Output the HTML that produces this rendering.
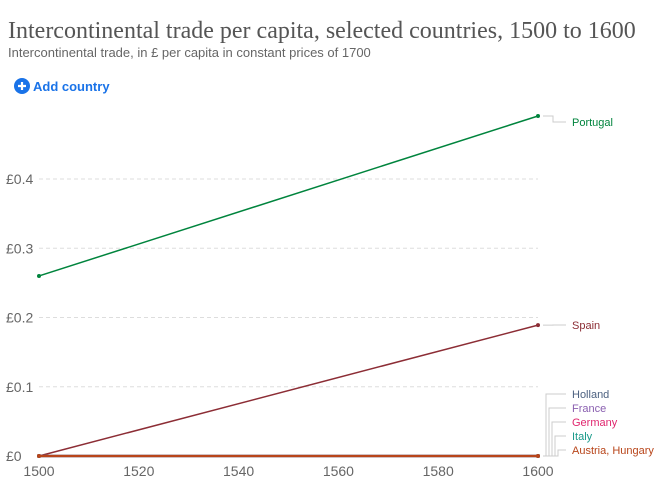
<!DOCTYPE html>
<html><head><meta charset="utf-8"><style>
body{margin:0;background:#fff;width:668px;height:495px;overflow:hidden;font-family:"Liberation Sans",sans-serif}
</style></head><body>
<svg width="668" height="495">
<text x="8" y="38" font-family="Liberation Serif,serif" font-size="24" fill="#555">Intercontinental trade per capita, selected countries, 1500 to 1600</text>
<text x="8" y="57" font-size="13" fill="#666">Intercontinental trade, in £ per capita in constant prices of 1700</text>
<g>
<circle cx="22" cy="86" r="8" fill="#1a73e8"/>
<path d="M18 86h8M22 82v8" stroke="#fff" stroke-width="2.2"/>
<text x="33" y="91" font-size="13" font-weight="bold" fill="#1a73e8">Add country</text>
</g>
<g id="grid"></g><g id="xax"></g><g id="series"></g><g id="labels"></g>
</svg>
<script>
const years=[1500,1600];
const names=["Portugal","Spain","Holland","France","Germany","Italy","Austria, Hungary"];
const colors=["#00843d","#8c2d35","#4c6180","#8a5fb0","#e0266e","#1a9a8a","#b8451a"];
const values=[[0.26,0.491],[0,0.189],[0,0],[0,0],[0,0],[0,0],[0,0]];
const yTicks=[0,0.1,0.2,0.3,0.4];
const yTickLabels=["£0","£0.1","£0.2","£0.3","£0.4"];
const xTicks=[1500,1520,1540,1560,1580,1600];
const NS="http://www.w3.org/2000/svg";
const X=v=>39+(v-1500)*(538-39)/100;
const Y=v=>456-v*692.5;
function mk(p,t,a){const e=document.createElementNS(NS,t);for(const k in a)e.setAttribute(k,a[k]);document.getElementById(p).appendChild(e);return e;}
yTicks.forEach((t,i)=>{
 if(t>0){const l=mk('grid','line',{x1:39,x2:538,y1:Y(t),y2:Y(t),stroke:'#ddd','stroke-dasharray':'4,3'});
 
 }
 const tx=mk('grid','text',{x:6,y:Y(t)+5,'font-size':14,fill:'#666'});tx.textContent=yTickLabels[i];
 
 
});
xTicks.forEach(t=>{
 const tx=mk('xax','text',{x:X(t),y:476,'font-size':14,fill:'#666','text-anchor':'middle'});tx.textContent=t;
 
 
});
const lblY=[126,329,398,412,426,440,454];
for(let i=0;i<names.length;i++){
 const pts=years.map((y,j)=>X(y)+','+Y(values[i][j])).join(' ');
 const pl=mk('series','polyline',{points:pts,fill:'none',stroke:colors[i],'stroke-width':i>=2?2.2:1.5});
 
 
 years.forEach((y,j)=>{const c=mk('series','circle',{cx:X(y),cy:Y(values[i][j]),r:2,fill:colors[i]});
 
 });
 const ey=Y(values[i][1]);
 let d;
 if(i<2){d=`M543 ${ey}H553V${lblY[i]-4}H566`;}
 else{const vx=546+(i-2)*3;d=`M543 ${ey}H${vx}V${lblY[i]-4}H566`;}
 const cn=mk('labels','path',{d:d,fill:'none',stroke:'#ccc','stroke-width':1});
 
 
 const tx=mk('labels','text',{x:572,y:lblY[i],'font-size':11,fill:colors[i]});tx.textContent=names[i];
 
 
}
</script>
</body></html>
